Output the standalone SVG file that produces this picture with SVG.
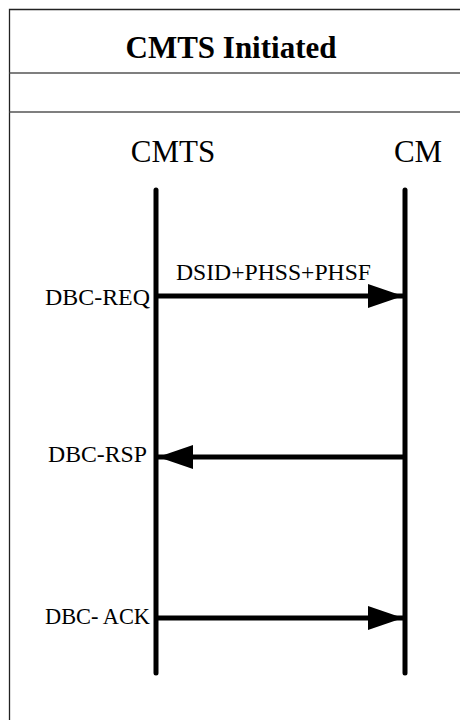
<svg xmlns="http://www.w3.org/2000/svg" width="460" height="720" viewBox="0 0 460 720">
<style>
.frame{stroke:#222;stroke-width:1.3;fill:none}
.sep{stroke:#555;stroke-width:1.3;fill:none}
.life{stroke:#000;stroke-width:5;stroke-linecap:round;fill:none}
.msg{stroke:#000;stroke-width:5;fill:none}
.t{font-family:"Liberation Serif","Times New Roman",serif;fill:#000}
.title{font-size:31px;font-weight:bold;text-anchor:middle}
.actor{font-size:31px;text-anchor:middle}
.lbl{font-size:23px}
</style>
<defs>
<marker id="ah" markerUnits="userSpaceOnUse" markerWidth="36" markerHeight="24" refX="35" refY="12" orient="auto">
<path d="M0,0 L35,12 L0,24 Z" fill="#000"/>
</marker>
</defs>
<g id="frame">
<path class="frame" d="M460,9.5 H9.5 V720"/>
<line class="sep" x1="9.5" y1="73" x2="460" y2="73"/>
<line class="sep" x1="9.5" y1="112" x2="460" y2="112"/>
<text class="t title" x="231" y="58">CMTS Initiated</text>
</g>
<g id="cmts">
<text class="t actor" x="173" y="162">CMTS</text>
<line class="life" x1="156" y1="190" x2="156" y2="673"/>
</g>
<g id="cm">
<text class="t actor" x="418" y="162">CM</text>
<line class="life" x1="405" y1="190" x2="405" y2="673"/>
</g>
<g id="connectors">
<line class="msg" x1="158" y1="296" x2="403" y2="296" marker-end="url(#ah)"/>
<line class="msg" x1="405" y1="457" x2="158" y2="457" marker-end="url(#ah)"/>
<line class="msg" x1="158" y1="618" x2="403" y2="618" marker-end="url(#ah)"/>
</g>
<g id="labels">
<text class="t lbl" x="176" y="280" font-size="22" textLength="195" lengthAdjust="spacingAndGlyphs">DSID+PHSS+PHSF</text>
<text class="t lbl" x="45" y="305" textLength="105" lengthAdjust="spacingAndGlyphs">DBC-REQ</text>
<text class="t lbl" x="48" y="462" textLength="99" lengthAdjust="spacingAndGlyphs">DBC-RSP</text>
<text class="t lbl" x="45" y="624" textLength="105" lengthAdjust="spacingAndGlyphs">DBC- ACK</text>
</g>
</svg>
